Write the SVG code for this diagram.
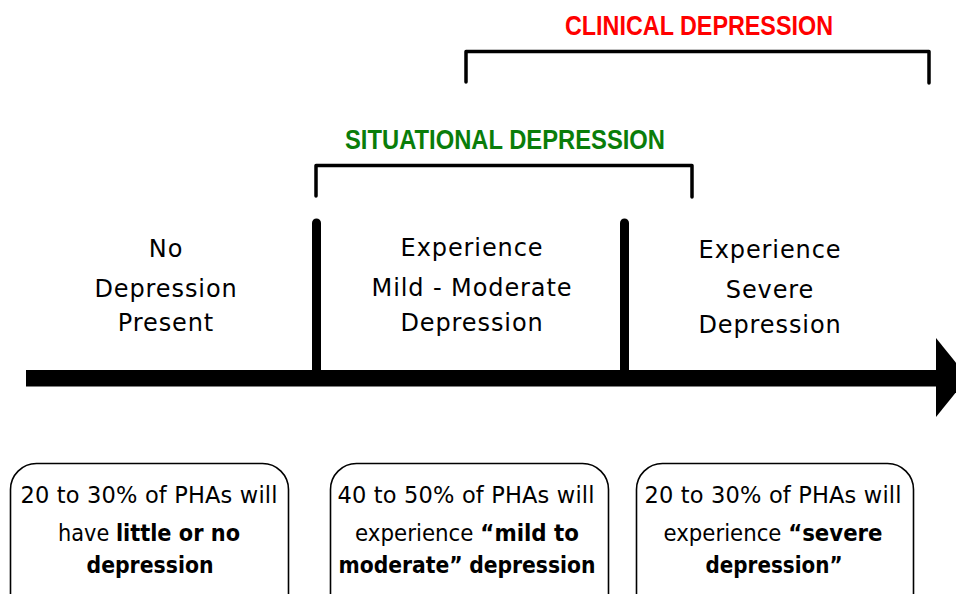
<svg xmlns="http://www.w3.org/2000/svg" width="956" height="594" viewBox="0 0 956 594">
<style>
.br{fill:none;stroke:#000;stroke-width:3.5;stroke-linecap:round;stroke-linejoin:round}
.title{font-family:"Liberation Sans",Arial,sans-serif;font-weight:bold;font-size:27px}
.lbl{font-family:"DejaVu Sans","Verdana",sans-serif;font-size:24px;fill:#000;text-anchor:middle;letter-spacing:0.9px}
.box{fill:#fff;stroke:#000;stroke-width:1.6}
.bt{font-family:"DejaVu Sans","Verdana",sans-serif;font-size:22.5px;fill:#000;text-anchor:middle}
.b{font-weight:bold}
</style>
<rect width="956" height="594" fill="#fff"/>
<g id="clinical">
<text class="title" x="565" y="34.5" fill="#ff0000" textLength="268" lengthAdjust="spacingAndGlyphs">CLINICAL DEPRESSION</text>
<path class="br" d="M466,82 V51.5 H929 V83"/>
</g>
<g id="situational">
<text class="title" x="345" y="148.5" fill="#0a7d0a" textLength="320" lengthAdjust="spacingAndGlyphs">SITUATIONAL DEPRESSION</text>
<path class="br" d="M316,196 V165.5 H692 V197"/>
</g>
<g id="connectors">
<rect x="26" y="370" width="912" height="16.5" fill="#000"/>
<polygon points="936,338 968,377.5 936,417" fill="#000"/>
<line x1="316.5" y1="223" x2="316.5" y2="372" stroke="#000" stroke-width="9" stroke-linecap="round"/>
<line x1="624.5" y1="223" x2="624.5" y2="372" stroke="#000" stroke-width="9" stroke-linecap="round"/>
</g>
<g id="no-depression">
<text class="lbl" x="166" y="257">No</text>
<text class="lbl" x="166" y="297">Depression</text>
<text class="lbl" x="166" y="331">Present</text>
</g>
<g id="mild-moderate">
<text class="lbl" x="472" y="256">Experience</text>
<text class="lbl" x="472" y="296">Mild - Moderate</text>
<text class="lbl" x="472" y="331">Depression</text>
</g>
<g id="severe">
<text class="lbl" x="770" y="258">Experience</text>
<text class="lbl" x="770" y="298">Severe</text>
<text class="lbl" x="770" y="333">Depression</text>
</g>
<g id="box1">
<rect class="box" x="10.5" y="463.5" width="278" height="160" rx="26"/>
<text class="bt" x="149" y="503" textLength="257">20 to 30% of PHAs will</text>
<text class="bt" x="149" y="541" textLength="182" lengthAdjust="spacingAndGlyphs">have <tspan class="b">little or no</tspan></text>
<text class="bt b" x="150" y="573" textLength="127" lengthAdjust="spacingAndGlyphs">depression</text>
</g>
<g id="box2">
<rect class="box" x="330.5" y="463.5" width="278" height="160" rx="26"/>
<text class="bt" x="466" y="503" textLength="257">40 to 50% of PHAs will</text>
<text class="bt" x="467" y="541" textLength="224" lengthAdjust="spacingAndGlyphs">experience <tspan class="b">“mild to</tspan></text>
<text class="bt" x="467" y="573" textLength="257" lengthAdjust="spacingAndGlyphs"><tspan class="b">moderate”</tspan> <tspan class="b">depression</tspan></text>
</g>
<g id="box3">
<rect class="box" x="636.5" y="463.5" width="277" height="160" rx="26"/>
<text class="bt" x="773" y="503" textLength="257">20 to 30% of PHAs will</text>
<text class="bt" x="773" y="541" textLength="219" lengthAdjust="spacingAndGlyphs">experience <tspan class="b">“severe</tspan></text>
<text class="bt b" x="774" y="573" textLength="137" lengthAdjust="spacingAndGlyphs">depression”</text>
</g>
</svg>
